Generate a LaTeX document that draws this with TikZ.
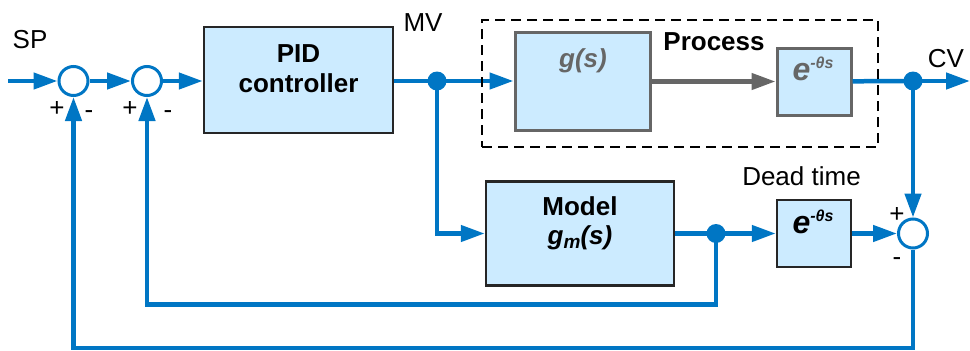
\documentclass[tikz,border=0pt]{standalone}
\usepackage{fontspec}
\setmainfont{Liberation Sans}
\usetikzlibrary{arrows.meta}
\definecolor{cblue}{RGB}{0,118,196}
\definecolor{cfill}{RGB}{204,235,255}
\definecolor{cgrey}{RGB}{102,102,102}
\begin{document}
\begin{tikzpicture}[x=1pt,y=-1pt,
  sig/.style={draw=cblue,line width=4.5pt},
  arr/.style={sig,-{Triangle[length=24pt,width=16pt]}},
  garr/.style={draw=cgrey,line width=4.5pt,-{Triangle[length=24pt,width=16pt]}},
  box/.style={draw=black!85,line width=2.5pt,fill=cfill,inner sep=0pt},
  gbox/.style={draw=cgrey,line width=3pt,fill=cfill,inner sep=0pt},
  sumc/.style={circle,draw=cblue,line width=3pt,fill=white,minimum size=29pt,inner sep=0pt},
  dot/.style={circle,fill=cblue,minimum size=19pt,inner sep=0pt},
  lbl/.style={font=\fontsize{26}{30}\selectfont,inner sep=0pt},
  blbl/.style={font=\bfseries\fontsize{26}{30}\selectfont,inner sep=0pt},
  ex/.style={font=\bfseries\itshape\fontsize{32}{34}\selectfont,inner sep=0pt,anchor=base},
]
\useasboundingbox (0,0) rectangle (970,351);

% blocks
\node[sumc] (s1) at (73.5,81) {};
\node[sumc] (s2) at (147,81) {};
\node[box,minimum width=189pt,minimum height=106pt] (pid) at (298.5,80) {};
\node[dot] (mv) at (437,81) {};
\node[gbox,minimum width=135pt,minimum height=98pt] (g) at (582.5,81.5) {};
\node[gbox,minimum width=74pt,minimum height=67pt] (pe) at (814,81.5) {};
\node[dot] (cv) at (913,81) {};
\coordinate (out) at (970,81);
\coordinate (in) at (8,81);
\node[box,minimum width=188pt,minimum height=104pt] (model) at (580,233.5) {};
\node[dot] (mj) at (716,233.5) {};
\node[box,minimum width=74pt,minimum height=67pt] (dt) at (814,233.5) {};
\node[sumc] (s3) at (913,233.5) {};

% texts
\node[blbl,anchor=base] (pidt1) at (298.5,62) {PID};
\node[blbl,anchor=base] (pidt2) at (298.5,92) {controller};
\node[blbl,anchor=base] (modt1) at (580,215) {Model};
\node[blbl,anchor=base] (modt2) at (580,244) {\itshape g\raisebox{-4pt}{\fontsize{19}{20}\selectfont m}(s)};
\node[blbl,anchor=base,text=cgrey] (gt) at (583,67) {\itshape g(s)};
\node[ex,text=cgrey] (pet) at (813,80) {e\raisebox{12pt}{\fontsize{16}{18}\selectfont -θs}};
\node[ex] (dtt) at (813,233) {e\raisebox{12pt}{\fontsize{16}{18}\selectfont -θs}};
\node[blbl,anchor=base] (proct) at (714,50) {Process};
\node[lbl,anchor=base] (sp) at (30,48) {SP};
\node[lbl,anchor=base] (mvl) at (423,31) {MV};
\node[lbl,anchor=base] (cvl) at (946,67) {CV};
\node[lbl,anchor=base] (dtl) at (801.5,185) {Dead time};
\node[lbl,anchor=base] (p1) at (57,116) {+};
\node[lbl,anchor=base] (m1) at (89,118) {-};
\node[lbl,anchor=base] (p2) at (130,116) {+};
\node[lbl,anchor=base] (m2) at (168,118) {-};
\node[lbl,anchor=base] (p3) at (897,222) {+};
\node[lbl,anchor=base] (m3) at (897,265) {-};

% connectors
\draw[arr] (in) -- (s1);
\draw[arr] (s1) -- (s2);
\draw[arr] (s2) -- (s2 -| pid.west);
\draw[sig] (mv -| pid.east) -- (mv.center);
\draw[arr] (mv.center) -- (mv -| g.west);
\draw[garr] (g) -- (pe);
\draw[sig] (pe) -- (cv.center);
\draw[arr] (cv.center) -- (out);
\draw[arr] (cv.center) -- (s3);
\draw[arr] (mv.center) |- (model.west);
\draw[sig] (model) -- (mj.center);
\draw[arr] (mj.center) -- (dt);
\draw[arr] (dt) -- (s3);
\draw[arr] (mj.center) -- ++(0,71) -| (s2);
\draw[arr] (s3.south) -- (913,348) -| (s1);

% process boundary
\node[draw=black,line width=2.5pt,dash pattern=on 10pt off 6pt,minimum width=396pt,minimum height=127pt,inner sep=0pt] (proc) at (680,83.5) {};
\end{tikzpicture}
\end{document}
